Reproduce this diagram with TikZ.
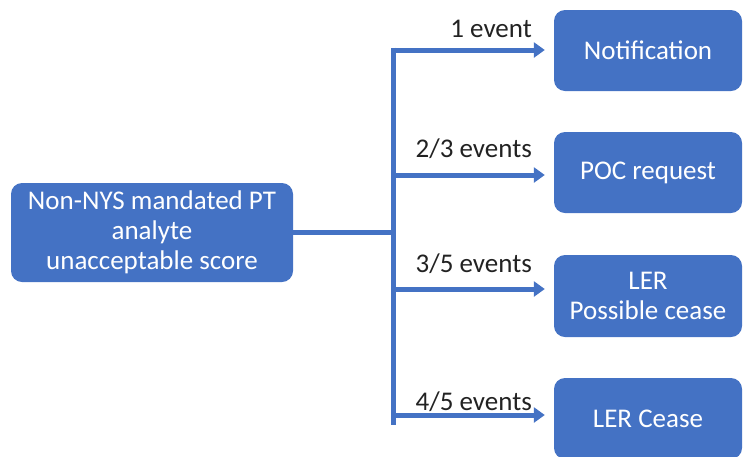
\documentclass[tikz,border=0pt]{standalone}
\usepackage{fontspec}
\setmainfont{Carlito}
\usetikzlibrary{arrows.meta}
\definecolor{boxblue}{HTML}{4472C4}
\definecolor{labelgray}{HTML}{222222}
\tikzset{
  bluebox/.style={draw=none, fill=boxblue, rounded corners=11pt, text=white,
    font=\fontsize{27}{30}\selectfont, align=center, inner sep=0pt},
  bus/.style={draw=boxblue, line width=5pt},
  arr/.style={draw=boxblue, line width=5pt, -{Triangle[length=11pt,width=15pt]}},
  lbl/.style={text=labelgray, font=\fontsize{27}{30}\selectfont, anchor=base east, inner sep=0pt}
}
\begin{document}
\begin{tikzpicture}[x=1pt,y=-1pt]
\useasboundingbox (0,0) rectangle (743,456);
\clip (0,0) rectangle (743,456);
% left box
\node[bluebox, minimum width=282pt, minimum height=99pt] (L) at (152,232.5)
  {Non-NYS mandated PT\\analyte\\unacceptable score};
% right boxes
\node[bluebox, minimum width=188pt, minimum height=81pt] (b1) at (648,50.5) {Notification};
\node[bluebox, minimum width=188pt, minimum height=81pt] (b2) at (648,172.5) {POC request};
\node[bluebox, minimum width=188pt, minimum height=82pt] (b3) at (648,296) {LER\\Possible cease};
\node[bluebox, minimum width=188pt, minimum height=81pt] (b4) at (648,418.5) {LER Cease};
% bus coordinates
\coordinate (top) at (393,47.5);
\coordinate (bot) at (393,425);
\coordinate (j) at (393,232);
\coordinate (c1) at (393,50);
\coordinate (c2) at (393,175);
\coordinate (c3) at (393,289);
\coordinate (c4) at (393,415);
\draw[bus] (top) -- (bot);
\draw[bus] (L.east |- j) -- (j);
\draw[arr, shorten >=9pt] (c1) -- (c1 -| b1.west);
\draw[arr, shorten >=9pt] (c2) -- (c2 -| b2.west);
\draw[arr, shorten >=9pt] (c3) -- (c3 -| b3.west);
\draw[arr, shorten >=9pt] (c4) -- (c4 -| b4.west);
% labels
\node[lbl] (l1) at (532,37) {1 event};
\node[lbl] (l2) at (532,157) {2/3 events};
\node[lbl] (l3) at (532,272) {3/5 events};
\node[lbl] (l4) at (532,410) {4/5 events};
\end{tikzpicture}
\end{document}
